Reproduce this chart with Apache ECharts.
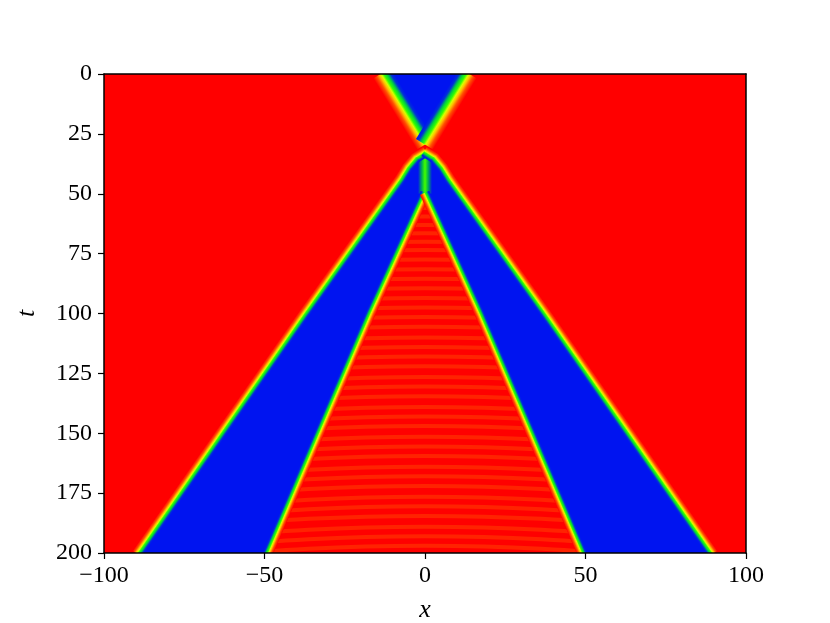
<!DOCTYPE html>
<html>
<head>
<meta charset="utf-8">
<script src="https://cdn.jsdelivr.net/npm/echarts@6/dist/echarts.min.js"></script>
<style>
  html, body { margin: 0; padding: 0; background: #fff; }
  #main { width: 830px; height: 623px; }
</style>
</head>
<body>
<div id="main"></div>
<script>
// kink fronts: x position (space) at given t (time)
var incomingT = [0, 29]
var incomingX = [13.3, 0]            // half distance of the incoming pair
var outerT = [32.5, 35, 39, 44, 100, 150, 200]
var outerX = [0, 3, 5.5, 7.8, 37.6, 63.6, 89.5]
var innerT = [50, 100, 150, 200]
var innerX = [0, 17, 33, 48.9]
var seamT = [33, 50]                 // green column right after the bounce
// orange ripple rows inside the central red wedge
var rippleT = [56, 59.5, 63, 66.5, 70, 73.5, 77.5, 81.5, 85.5, 89.5, 93.5, 97.5,
  101.5, 105.5, 110, 114, 118, 122, 126.5, 130.5, 134.5, 139, 143, 147, 151.5,
  155.5, 159.5, 164, 168, 172, 176.5, 180.5, 184.5, 189, 193, 197]
var xTicks = [-100, -50, 0, 50, 100]
var tTicks = [0, 25, 50, 75, 100, 125, 150, 175, 200]

var FONT = 'Liberation Serif'
var RED = '#ff0000'
var BLUE = '#0014f0'
var edgeStops = [
  {offset: 0, color: RED},
  {offset: 0.2, color: '#ff5000'},
  {offset: 0.35, color: '#ffc000'},
  {offset: 0.45, color: '#d8ff00'},
  {offset: 0.56, color: '#30ff00'},
  {offset: 0.7, color: '#00d040'},
  {offset: 0.86, color: '#0030d8'},
  {offset: 1, color: BLUE}
]

function toPx (api, xs, ts, sign) {
  var pts = []
  for (var i = 0; i < ts.length; i++) pts.push(api.coord([sign * xs[i], ts[i]]))
  return pts
}
function seamPx (api) {
  return seamT.map(function (t) { return api.coord([0, t]) })
}

// blue domains as polygons
var bands = [
  function (api) {
    return toPx(api, incomingX, incomingT, -1).concat(toPx(api, incomingX, incomingT, 1).reverse())
  },
  function (api) {
    return toPx(api, outerX, outerT, -1).concat(toPx(api, innerX, innerT, -1).reverse(), seamPx(api).reverse())
  },
  function (api) {
    return toPx(api, outerX, outerT, 1).concat(toPx(api, innerX, innerT, 1).reverse(), seamPx(api).reverse())
  }
]

// the fronts, red side given as sign of x
var fronts = [
  {xs: incomingX, ts: incomingT, sign: -1, red: -1, hw: 10},
  {xs: incomingX, ts: incomingT, sign: 1, red: 1, hw: 10},
  {xs: outerX, ts: outerT, sign: -1, red: -1, hw: 5.5},
  {xs: outerX, ts: outerT, sign: 1, red: 1, hw: 5.5},
  {xs: innerX, ts: innerT, sign: -1, red: 1, hw: 5},
  {xs: innerX, ts: innerT, sign: 1, red: -1, hw: 5}
]
var segList = []
var segData = []
fronts.forEach(function (f, k) {
  for (var i = 0; i < f.ts.length - 1; i++) {
    segList.push({f: k, i: i})
    segData.push([f.sign * f.xs[i], f.ts[i]])
  }
})

function renderBand (params, api) {
  return {
    type: 'polygon',
    shape: {points: bands[params.dataIndex](api)},
    style: {fill: BLUE}
  }
}

function renderEdge (params, api) {
  var s = segList[params.dataIndex]
  var f = fronts[s.f]
  var p0 = api.coord([f.sign * f.xs[s.i], f.ts[s.i]])
  var p1 = api.coord([f.sign * f.xs[s.i + 1], f.ts[s.i + 1]])
  var dx = p1[0] - p0[0]
  var dy = p1[1] - p0[1]
  var len = Math.sqrt(dx * dx + dy * dy)
  var ux = dx / len
  var uy = dy / len
  var nx = -uy
  var ny = ux
  if (nx * f.red < 0) { nx = -nx; ny = -ny }
  var a = [p0[0] - ux, p0[1] - uy]
  var b = [p1[0] + ux, p1[1] + uy]
  var hw = f.hw
  var mx = (a[0] + b[0]) / 2
  var my = (a[1] + b[1]) / 2
  return {
    type: 'polygon',
    shape: {points: [
      [a[0] + nx * hw, a[1] + ny * hw], [b[0] + nx * hw, b[1] + ny * hw],
      [b[0] - nx * hw, b[1] - ny * hw], [a[0] - nx * hw, a[1] - ny * hw]
    ]},
    style: {fill: new echarts.graphic.LinearGradient(mx + nx * hw, my + ny * hw, mx - nx * hw, my - ny * hw, edgeStops, true)}
  }
}

function renderSeam (params, api) {
  var top = api.coord([0, seamT[0]])
  var bot = api.coord([0, seamT[1]])
  var hw = 7
  return {
    type: 'rect',
    shape: {x: top[0] - hw, y: top[1], width: hw * 2, height: bot[1] - top[1]},
    style: {fill: new echarts.graphic.LinearGradient(0, 0, 1, 0, [
      {offset: 0, color: BLUE}, {offset: 0.28, color: '#00b050'},
      {offset: 0.5, color: '#40ff00'}, {offset: 0.72, color: '#00b050'},
      {offset: 1, color: BLUE}
    ])}
  }
}

function renderRipples (params, api) {
  var clip = toPx(api, innerX, innerT, -1).concat(toPx(api, innerX, innerT, 1).reverse())
  var kids = rippleT.map(function (t) {
    return {
      type: 'polyline',
      shape: {points: [api.coord([-50, t + 2.5]), api.coord([0, t]), api.coord([50, t + 2.5])], smooth: 0.6},
      style: {stroke: 'rgba(255,110,0,0.32)', lineWidth: 4, fill: null}
    }
  })
  return {type: 'group', children: kids, clipPath: {type: 'polygon', shape: {points: clip}}}
}

function fmt (v) {
  return v < 0 ? '\u2212' + (-v) : String(v)
}

var chart = echarts.init(document.getElementById('main'))
var labelStyle = {color: '#000', fontSize: 24, fontFamily: FONT}
var nameStyle = {color: '#000', fontSize: 26, fontFamily: FONT, fontStyle: 'italic'}
var frame = {show: true, onZero: false, lineStyle: {color: '#000', width: 1.5}}

chart.setOption({
  animation: false,
  backgroundColor: '#fff',
  grid: {
    left: 104, right: 84, top: 74, bottom: 70, containLabel: false, outerBoundsMode: 'none',
    show: true, backgroundColor: RED, borderWidth: 0
  },
  xAxis: [{
    type: 'value', min: xTicks[0], max: xTicks[xTicks.length - 1], interval: 50,
    position: 'bottom', name: 'x', nameLocation: 'middle', nameGap: 44, nameTextStyle: nameStyle,
    axisLine: frame, axisTick: {show: true, length: 6, lineStyle: {color: '#000', width: 1.2}},
    axisLabel: Object.assign({margin: 11, formatter: fmt}, labelStyle),
    splitLine: {show: false}, z: 10
  }, {
    type: 'value', min: xTicks[0], max: xTicks[xTicks.length - 1], position: 'top',
    axisLine: frame, axisTick: {show: false}, axisLabel: {show: false}, splitLine: {show: false}, z: 10
  }],
  yAxis: [{
    type: 'value', inverse: true, min: tTicks[0], max: tTicks[tTicks.length - 1], interval: 25,
    position: 'left', name: 't', nameLocation: 'middle', nameGap: 64, nameRotate: 90, nameTextStyle: nameStyle,
    axisLine: frame, axisTick: {show: true, length: 6, lineStyle: {color: '#000', width: 1.2}},
    axisLabel: Object.assign({margin: 12, formatter: fmt}, labelStyle),
    splitLine: {show: false}, z: 10
  }, {
    type: 'value', inverse: true, min: tTicks[0], max: tTicks[tTicks.length - 1], position: 'right',
    axisLine: frame, axisTick: {show: false}, axisLabel: {show: false}, splitLine: {show: false}, z: 10
  }],
  series: [{
    type: 'custom', name: 'ripples', clip: true, silent: true, z: 1,
    data: [[0, 100]], renderItem: renderRipples
  }, {
    type: 'custom', name: 'blue', clip: true, silent: true, z: 2,
    data: [[0, 10], [-50, 150], [50, 150]], renderItem: renderBand
  }, {
    type: 'custom', name: 'seam', clip: true, silent: true, z: 3,
    data: [[0, 40]], renderItem: renderSeam
  }, {
    type: 'custom', name: 'edges', clip: true, silent: true, z: 4,
    data: segData, renderItem: renderEdge
  }]
})
</script>
</body>
</html>
